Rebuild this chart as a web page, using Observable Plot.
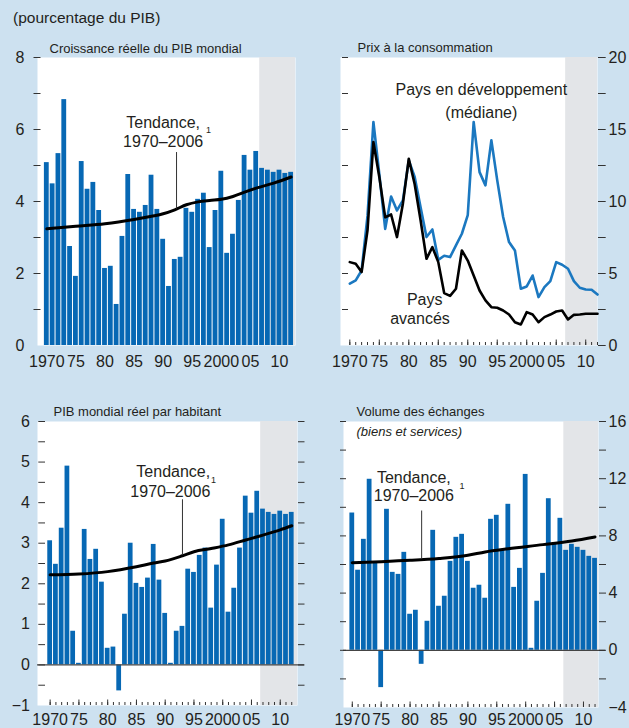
<!DOCTYPE html>
<html lang="fr">
<head>
<meta charset="utf-8">
<script src="https://cdn.jsdelivr.net/npm/d3@7"></script>
<script src="https://cdn.jsdelivr.net/npm/@observablehq/plot@0.6"></script>
<style>
  html, body { margin: 0; padding: 0; background: #cde1f0; }
  #root { position: relative; width: 629px; height: 728px; overflow: hidden; background: #cde1f0;
          font-family: "Liberation Sans", Arial, sans-serif; color: #231f20; }
  #root > svg { position: absolute; overflow: visible; }
  #hdr { position: absolute; left: 13px; top: 9px; font-size: 15.5px; line-height: 18px; white-space: nowrap; }
</style>
</head>
<body>
<div id="root"><div id="hdr">(pourcentage du PIB)</div></div>
<script>
// ---------- DATA ----------
const years = d3.range(1970, 2013);
const xTickYears = [1970, 1975, 1980, 1985, 1990, 1995, 2000, 2005, 2010];
const projStart = 2006.6;

// Croissance réelle du PIB mondial
const gdpGrowth = [5.08,4.49,5.33,6.83,2.75,1.92,5.11,4.34,4.53,3.75,
                   2.14,2.20,1.14,3.03,4.75,3.78,3.70,3.89,4.73,3.78,
                   2.95,1.64,2.39,2.45,3.81,3.70,4.06,4.23,2.72,3.75,
                   4.84,2.56,3.09,4.03,5.28,4.87,5.39,4.92,4.87,4.81,
                   4.87,4.78,4.81];
const gdpTrendYears = [1970,1975,1980,1985,1988,1990,1992,1994,1996,1998,2000,2002,2004,2006,2009,2012];
const gdpTrend      = [3.24,3.31,3.38,3.50,3.59,3.66,3.77,3.91,3.99,4.03,4.06,4.14,4.26,4.37,4.51,4.68];

// Prix à la consommation
const cpiDeveloping = [4.29,4.52,5.21,9.0,15.52,11.9,8.1,10.35,9.38,10.08,
                       12.86,11.7,9.6,7.53,8.06,5.95,6.23,6.14,6.95,7.76,
                       9.05,15.52,12.04,11.12,14.25,11.47,8.92,7.18,6.6,3.94,
                       4.1,4.86,3.36,4.05,4.47,5.79,5.61,5.33,4.47,4.01,
                       3.89,3.87,3.54];
const cpiAdvanced = [5.79,5.67,5.1,8.0,14.13,11.7,8.9,9.1,7.53,9.85,
                     12.97,11.2,8.7,6.02,6.83,5.79,3.64,3.45,3.94,6.6,
                     5.9,4.86,3.82,3.13,2.66,2.62,2.43,2.15,1.62,1.46,
                     2.32,2.15,1.62,1.97,2.15,2.36,2.43,1.81,2.13,2.15,
                     2.2,2.2,2.2];

// PIB mondial réel par habitant
const gdpPerCapita = [3.06,2.48,3.37,4.90,0.83,0.04,3.34,2.60,2.85,2.04,
                      0.41,0.44,-0.64,1.25,3.00,2.01,1.91,2.14,2.97,2.09,
                      1.27,0.04,0.83,0.95,2.36,2.28,2.70,2.88,1.40,2.46,
                      3.59,1.30,1.89,2.88,4.16,3.74,4.28,3.84,3.76,3.71,
                      3.79,3.71,3.76];
const pcTrendYears = [1970,1975,1980,1985,1988,1990,1993,1995,1998,2001,2004,2007,2010,2012];
const pcTrend      = [2.22,2.24,2.30,2.42,2.51,2.56,2.69,2.79,2.87,2.96,3.08,3.20,3.33,3.43];

// Volume des échanges (biens et services)
const tradeVolume = [9.6,5.6,7.76,11.96,6.1,-2.61,9.86,5.45,5.31,6.85,
                     2.52,2.80,-0.98,2.03,8.39,3.08,3.78,6.22,7.90,8.11,
                     6.22,4.34,4.55,3.64,9.16,9.44,7.0,10.21,4.4,5.73,
                     12.3,0.14,3.43,5.38,10.6,7.4,9.23,6.99,7.41,7.2,
                     6.99,6.57,6.43];
const tradeTrendYears = [1970,1975,1980,1985,1990,1993,1997,2003,2008,2012];
const tradeTrend      = [6.13,6.20,6.29,6.42,6.64,6.88,7.10,7.39,7.65,7.93];

// ---------- TABLES ----------
const rows = (ys, vs) => ys.map((year, i) => ({year, value: vs[i]}));
const gdpRows = rows(years, gdpGrowth);
const gdpTrendRows = rows(gdpTrendYears, gdpTrend);
const devRows = rows(years, cpiDeveloping);
const advRows = rows(years, cpiAdvanced);
const pcRows = rows(years, gdpPerCapita);
const pcTrendRows = rows(pcTrendYears, pcTrend);
const tradeRows = rows(years, tradeVolume);
const tradeTrendRows = rows(tradeTrendYears, tradeTrend);

// ---------- STYLE ----------
const FONT = '"Liberation Sans", Arial, sans-serif';
const INK = "#231f20", TICK = "#333333", BAR = "#0768b4", BLUE = "#1b78c0", SHADE = "#e3e5e8";
const STYLE = {fontFamily: FONT, fontSize: "16px", color: INK, background: "transparent", overflow: "visible"};
const fmtYear = d => (d === 1970 || d === 2000) ? String(d) : String(d % 100).padStart(2, "0");
const fmtInt = d3.format("d");
const blank = () => "";
const root = document.getElementById("root");
function place(svg, left, top) { svg.style.left = left + "px"; svg.style.top = top + "px"; root.appendChild(svg); }

const shade = (xmax) => Plot.rect([projStart], {x1: d => d, x2: () => xmax, fill: SHADE});
const bars = (data) => Plot.rect(data, {x1: d => d.year - 0.5, x2: d => d.year + 0.5, y1: () => 0, y2: "value",
                                        fill: BAR, insetLeft: 0.5, insetRight: 0.5});
const trend = (data) => Plot.line(data, {x: "year", y: "value", stroke: "black", strokeWidth: 3, curve: "monotone-x"});
const note = (t, x, y, size = 16) => Plot.text([t], {x: () => x, y: () => y, text: d => d, lineAnchor: "bottom", fontSize: size, fill: INK});
const title = (t, dx, dy, extra = {}) => Plot.text([t], {frameAnchor: "top-left", dx, dy, text: d => d, textAnchor: "start",
                                              lineAnchor: "bottom", fontSize: 13, fill: INK, ...extra});
const leader = (x, y1, y2) => Plot.ruleX([x], {x: d => d, y1: () => y1, y2: () => y2, stroke: TICK, strokeWidth: 1});
const yearTicks = () => [
  Plot.axisX({anchor: "bottom", ticks: years, tickSize: 3, dy: -3, tickFormat: blank, stroke: TICK}),
  Plot.axisX({anchor: "bottom", ticks: xTickYears, tickSize: 5.5, dy: -5.5, tickFormat: blank, stroke: TICK})
];

// ---------- PANEL 1 : Croissance réelle du PIB mondial ----------
const xd1 = [1968.4, 2012.75];
place(Plot.plot({
  width: 310, height: 330, marginLeft: 37, marginRight: 15, marginTop: 17, marginBottom: 25,
  style: STYLE,
  x: {domain: xd1, label: null},
  y: {domain: [0, 8], label: null},
  marks: [
    Plot.frame({fill: "white", stroke: "none"}),
    shade(xd1[1]),
    bars(gdpRows),
    trend(gdpTrendRows),
    leader(1992.3, 5.36, 3.79),
    note("Tendance,", 1990.0, 6.05),
    note("1970–2006", 1990.0, 5.51),
    note("1", 1997.8, 5.89, 9),
    title("Croissance réelle du PIB mondial", 12, -4.5),
    Plot.axisY({anchor: "left", ticks: d3.range(1, 9), tickSize: 7, dx: 3.5, tickFormat: blank, stroke: TICK}),
    Plot.axisY({anchor: "left", ticks: [0, 2, 4, 6, 8], tickSize: 0, tickPadding: 13, tickFormat: fmtInt}),
    Plot.axisX({anchor: "bottom", ticks: xTickYears, tickSize: 0, tickPadding: 10, tickFormat: fmtYear})
  ]
}), 0, 40);

// ---------- PANEL 2 : Prix à la consommation ----------
const xd2 = [1968.42, 2012];
place(Plot.plot({
  width: 319, height: 330, marginLeft: 30, marginRight: 32, marginTop: 17, marginBottom: 25,
  style: STYLE,
  x: {domain: xd2, label: null},
  y: {domain: [0, 20], label: null},
  marks: [
    Plot.frame({fill: "white", stroke: "none"}),
    shade(xd2[1]),
    ...yearTicks(),
    Plot.line(devRows, {x: "year", y: "value", stroke: BLUE, strokeWidth: 2.6}),
    Plot.line(advRows, {x: "year", y: "value", stroke: "black", strokeWidth: 2.6}),
    note("Pays en développement", 1992.3, 17.37),
    note("(médiane)", 1992.3, 15.8),
    note("Pays", 1982.7, 2.78),
    note("avancés", 1981.9, 1.5),
    title("Prix à la consommation", 17, -5.3),
    Plot.axisY({anchor: "left", ticks: d3.range(2.5, 20.01, 2.5), tickSize: 6, dx: 8, tickFormat: blank, stroke: TICK}),
    Plot.axisY({anchor: "right", ticks: d3.range(0, 20.01, 2.5), tickSize: 7.7, tickFormat: blank, stroke: TICK}),
    Plot.axisY({anchor: "right", ticks: [0, 5, 10, 15, 20], tickSize: 0, tickPadding: 11, tickFormat: fmtInt}),
    Plot.axisX({anchor: "bottom", ticks: xTickYears, tickSize: 0, tickPadding: 10, tickFormat: fmtYear})
  ]
}), 310, 40);

// ---------- PANEL 3 : PIB mondial réel par habitant ----------
const xd3 = [1967.8, 2013.0];
place(Plot.plot({
  width: 310, height: 338, marginLeft: 37, marginRight: 13, marginTop: 31, marginBottom: 23,
  style: STYLE,
  x: {domain: xd3, label: null},
  y: {domain: [-1, 6], label: null},
  marks: [
    Plot.frame({fill: "white", stroke: "none"}),
    shade(xd3[1]),
    ...yearTicks(),
    bars(pcRows),
    Plot.ruleY([0], {stroke: "#444", strokeWidth: 1.2, insetRight: -7}),
    trend(pcTrendRows),
    leader(1993.0, 4.07, 2.70),
    note("Tendance,", 1991.4, 4.62),
    note("1970–2006", 1990.9, 4.15),
    note("1", 1998.4, 4.48, 9),
    title("PIB mondial réel par habitant", 16, -6),
    Plot.axisY({anchor: "left", ticks: d3.range(-0.5, 6.01, 0.5), tickSize: 6.7, dx: 8, tickFormat: blank, stroke: TICK}),
    Plot.axisY({anchor: "right", ticks: d3.range(-0.5, 6.01, 0.5), tickSize: 6.5, tickFormat: blank, stroke: TICK}),
    Plot.axisY({anchor: "left", ticks: d3.range(-1, 6.01, 1), tickSize: 0, tickPadding: 7.5, tickFormat: fmtInt}),
    Plot.axisX({anchor: "bottom", ticks: xTickYears, tickSize: 0, tickPadding: 8, tickFormat: fmtYear})
  ]
}), 0, 390);

// ---------- PANEL 4 : Volume des échanges ----------
const xd4 = [1968.48, 2012.6];
place(Plot.plot({
  width: 319, height: 338, marginLeft: 33, marginRight: 31, marginTop: 31, marginBottom: 21,
  style: STYLE,
  x: {domain: xd4, label: null},
  y: {domain: [-4, 16], label: null},
  marks: [
    Plot.frame({fill: "white", stroke: "none"}),
    shade(xd4[1]),
    ...yearTicks(),
    bars(tradeRows),
    Plot.ruleY([0], {stroke: "#444", strokeWidth: 1.2, insetRight: -7}),
    trend(tradeTrendRows),
    leader(1982.0, 9.74, 6.4),
    note("Tendance,", 1980.65, 11.72),
    note("1970–2006", 1980.65, 10.44),
    note("1", 1989.0, 11.3, 9),
    title("Volume des échanges", 13, -6),
    title("(biens et services)", 13, 14, {fontStyle: "italic"}),
    Plot.axisY({anchor: "left", ticks: d3.range(-2, 16.01, 2), tickSize: 6, dx: 3, tickFormat: blank, stroke: TICK}),
    Plot.axisY({anchor: "right", ticks: d3.range(-2, 16.01, 2), tickSize: 7, tickFormat: blank, stroke: TICK}),
    Plot.axisY({anchor: "right", ticks: [-4, 0, 4, 8, 12, 16], tickSize: 0, tickPadding: 10, tickFormat: fmtInt}),
    Plot.axisX({anchor: "bottom", ticks: xTickYears, tickSize: 0, tickPadding: 6, tickFormat: fmtYear})
  ]
}), 310, 390);
</script>
</body>
</html>
